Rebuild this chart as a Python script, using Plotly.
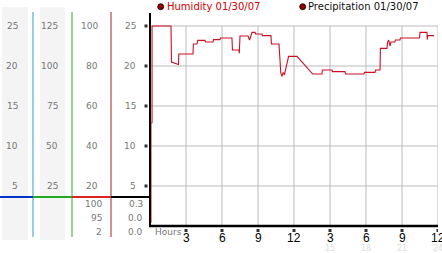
import plotly.graph_objects as go

W, H = 442, 253

# ---- data ----
hours = [0.08, 0.08, 0.17, 0.17, 1.75, 1.79, 2.37, 2.40, 3.58, 3.62, 3.92, 3.98, 4.58, 4.62,
         5.25, 5.30, 5.83, 5.88, 6.83, 6.87, 7.40, 7.44, 7.50, 8.17, 8.30, 8.50, 8.75, 8.80,
         9.33, 9.37, 10.08, 10.12, 10.75, 10.90, 11.00, 11.10, 11.20, 11.30, 11.55, 12.25,
         13.56, 14.33, 14.37, 15.17, 15.20, 16.25, 16.30, 17.83, 17.88, 18.75, 18.80, 19.17,
         19.20, 19.75, 19.80, 19.90, 20.00, 20.08, 20.40, 20.45, 20.83, 20.87, 22.46, 22.50,
         23.08, 23.10, 23.15, 23.67]
humidity = [0.4, 12.9, 12.9, 25.0, 25.0, 20.5, 20.2, 21.5, 21.5, 22.75, 22.75, 23.2, 23.2, 23.0,
            23.0, 23.3, 23.3, 23.5, 23.5, 22.0, 22.0, 21.6, 23.75, 23.75, 23.25, 24.2, 24.2, 24.0,
            24.0, 23.8, 23.8, 22.75, 22.75, 19.1, 18.7, 19.2, 18.9, 19.5, 21.2, 21.2,
            19.0, 19.0, 19.5, 19.5, 19.3, 19.3, 19.0, 19.0, 19.2, 19.2, 19.5, 19.5,
            22.2, 22.2, 23.0, 23.25, 22.5, 23.0, 23.0, 23.25, 23.25, 23.5, 23.5, 24.2,
            24.2, 23.3, 23.8, 23.8]

y_ticks = [5, 10, 15, 20, 25]
x_ticks = [3, 6, 9, 12, 15, 18, 21, 24]
x_tick_labels = ["3", "6", "9", "12", "3", "6", "9", "12"]
x_faint_ticks = [15, 18, 21, 24]
x_faint_labels = ["15", "18", "21", "24"]

col1_labels = ["5", "10", "15", "20", "25"]
col2_labels = ["25", "50", "75", "100", "125"]
col3_labels = ["20", "40", "60", "80", "100"]
col4_labels = ["5", "10", "15", "20", "25"]
col3_low = ["100", "95", "2"]
col4_low = ["0.3", "0.0", "0.0"]

legend_names = ["Humidity 01/30/07", "Precipitation 01/30/07"]

# ---- helpers (pixel -> paper) ----
def px(x):
    return x / W

def py(y):
    return 1 - y / H

GRAY = "#777777"
FONT = "DejaVu Sans"

fig = go.Figure()

fig.add_trace(go.Scatter(x=hours, y=humidity, mode="lines",
                         line=dict(color="#cc1122", width=1.1), hoverinfo="skip",
                         showlegend=False))

shapes = []
# gray bands
for x0, x1 in [(2, 28), (40, 65)]:
    shapes.append(dict(type="rect", xref="paper", yref="paper", x0=px(x0), x1=px(x1),
                       y0=py(240), y1=py(7), fillcolor="#f4f4f4", line=dict(width=0), layer="below"))
# grid lines
for h in x_ticks:
    shapes.append(dict(type="line", xref="x", yref="y", x0=h, x1=h, y0=0, y1=25,
                       line=dict(color="#bbbbbb", width=1), layer="below"))
for v in y_ticks:
    shapes.append(dict(type="line", xref="x", yref="y", x0=0, x1=24, y0=v, y1=v,
                       line=dict(color="#bbbbbb", width=1), layer="below"))
# vertical colored axes
for x, c in [(33, "#3399cc"), (72, "#33aa33"), (111, "#aa2222")]:
    shapes.append(dict(type="line", xref="paper", yref="paper", x0=px(x), x1=px(x),
                       y0=py(237), y1=py(12), line=dict(color=c, width=1)))
# horizontal colored baseline
for x0, x1, c in [(0, 33, "#0033cc"), (33, 72, "#22aa22"), (72, 111, "#dd2222"), (111, 150, "black")]:
    shapes.append(dict(type="line", xref="paper", yref="paper", x0=px(x0), x1=px(x1),
                       y0=py(197), y1=py(197), line=dict(color=c, width=2)))
# main axes
shapes.append(dict(type="line", xref="paper", yref="paper", x0=px(150), x1=px(150),
                   y0=py(226), y1=py(13), line=dict(color="black", width=2)))
shapes.append(dict(type="line", xref="paper", yref="paper", x0=px(149), x1=px(438),
                   y0=py(226), y1=py(226), line=dict(color="black", width=2.5)))
# small tick markers
for v in y_ticks:
    shapes.append(dict(type="rect", xref="paper", yref="y", ysizemode="pixel", yanchor=v,
                       x0=px(144.5), x1=px(147.5), y0=-1.5, y1=1.5,
                       fillcolor="#333333", line=dict(width=0)))
for h in x_ticks:
    shapes.append(dict(type="rect", xref="x", yref="paper", xsizemode="pixel", xanchor=h,
                       x0=-1.5, x1=1.5, y0=py(232), y1=py(229),
                       fillcolor="#333333", line=dict(width=0)))
# legend dots
for cx in [160.7, 302.7]:
    shapes.append(dict(type="circle", xref="paper", yref="paper", x0=px(cx - 3), x1=px(cx + 3),
                       y0=py(9.7), y1=py(3.7), fillcolor="#990000", line=dict(color="black", width=0.8)))

ann = []
def label(text, x, y, yref="paper", anchor="right", color=GRAY, size=9):
    ann.append(dict(text=text, xref="paper", yref=yref, x=px(x),
                    y=(y if yref == "y" else py(y)), xanchor=anchor, yanchor="middle",
                    showarrow=False, font=dict(family=FONT, size=size, color=color)))

for labels, xr in [(col1_labels, 20), (col2_labels, 60), (col3_labels, 99.5), (col4_labels, 138)]:
    for t, v in zip(labels, y_ticks):
        label(t, xr, v, yref="y")
for t, yy in zip(col3_low, [204, 218, 232]):
    label(t, 104, yy)
for t, yy in zip(col4_low, [204, 218, 232]):
    label(t, 144.5, yy)

label("Hours", 153, 232, anchor="left")

for h, t in zip(x_ticks, x_tick_labels):
    ann.append(dict(text=t, xref="x", yref="paper", x=h, y=py(238), xanchor="center",
                    yanchor="middle", showarrow=False,
                    font=dict(family="Liberation Sans", size=12, color="black")))
for h, t in zip(x_faint_ticks, x_faint_labels):
    ann.append(dict(text=t, xref="x", yref="paper", x=h, y=py(248), xanchor="center",
                    yanchor="middle", showarrow=False,
                    font=dict(family=FONT, size=8, color="#dddddd")))

label(legend_names[0], 164.5, 7, anchor="left", color="#cc0000", size=10)
label(legend_names[1], 306, 7, anchor="left", color="#111111", size=10)

fig.update_layout(
    width=W, height=H, margin=dict(l=0, r=0, t=0, b=0),
    paper_bgcolor="white", plot_bgcolor="white",
    xaxis=dict(domain=[px(150), px(438)], range=[0, 24], showgrid=False, zeroline=False,
               showticklabels=False, ticks="", fixedrange=True),
    yaxis=dict(domain=[27 / H, 240 / H], range=[0, 26.625], showgrid=False, zeroline=False,
               showticklabels=False, ticks="", fixedrange=True),
    shapes=shapes, annotations=ann, showlegend=False,
)

fig.write_html("out.html")
